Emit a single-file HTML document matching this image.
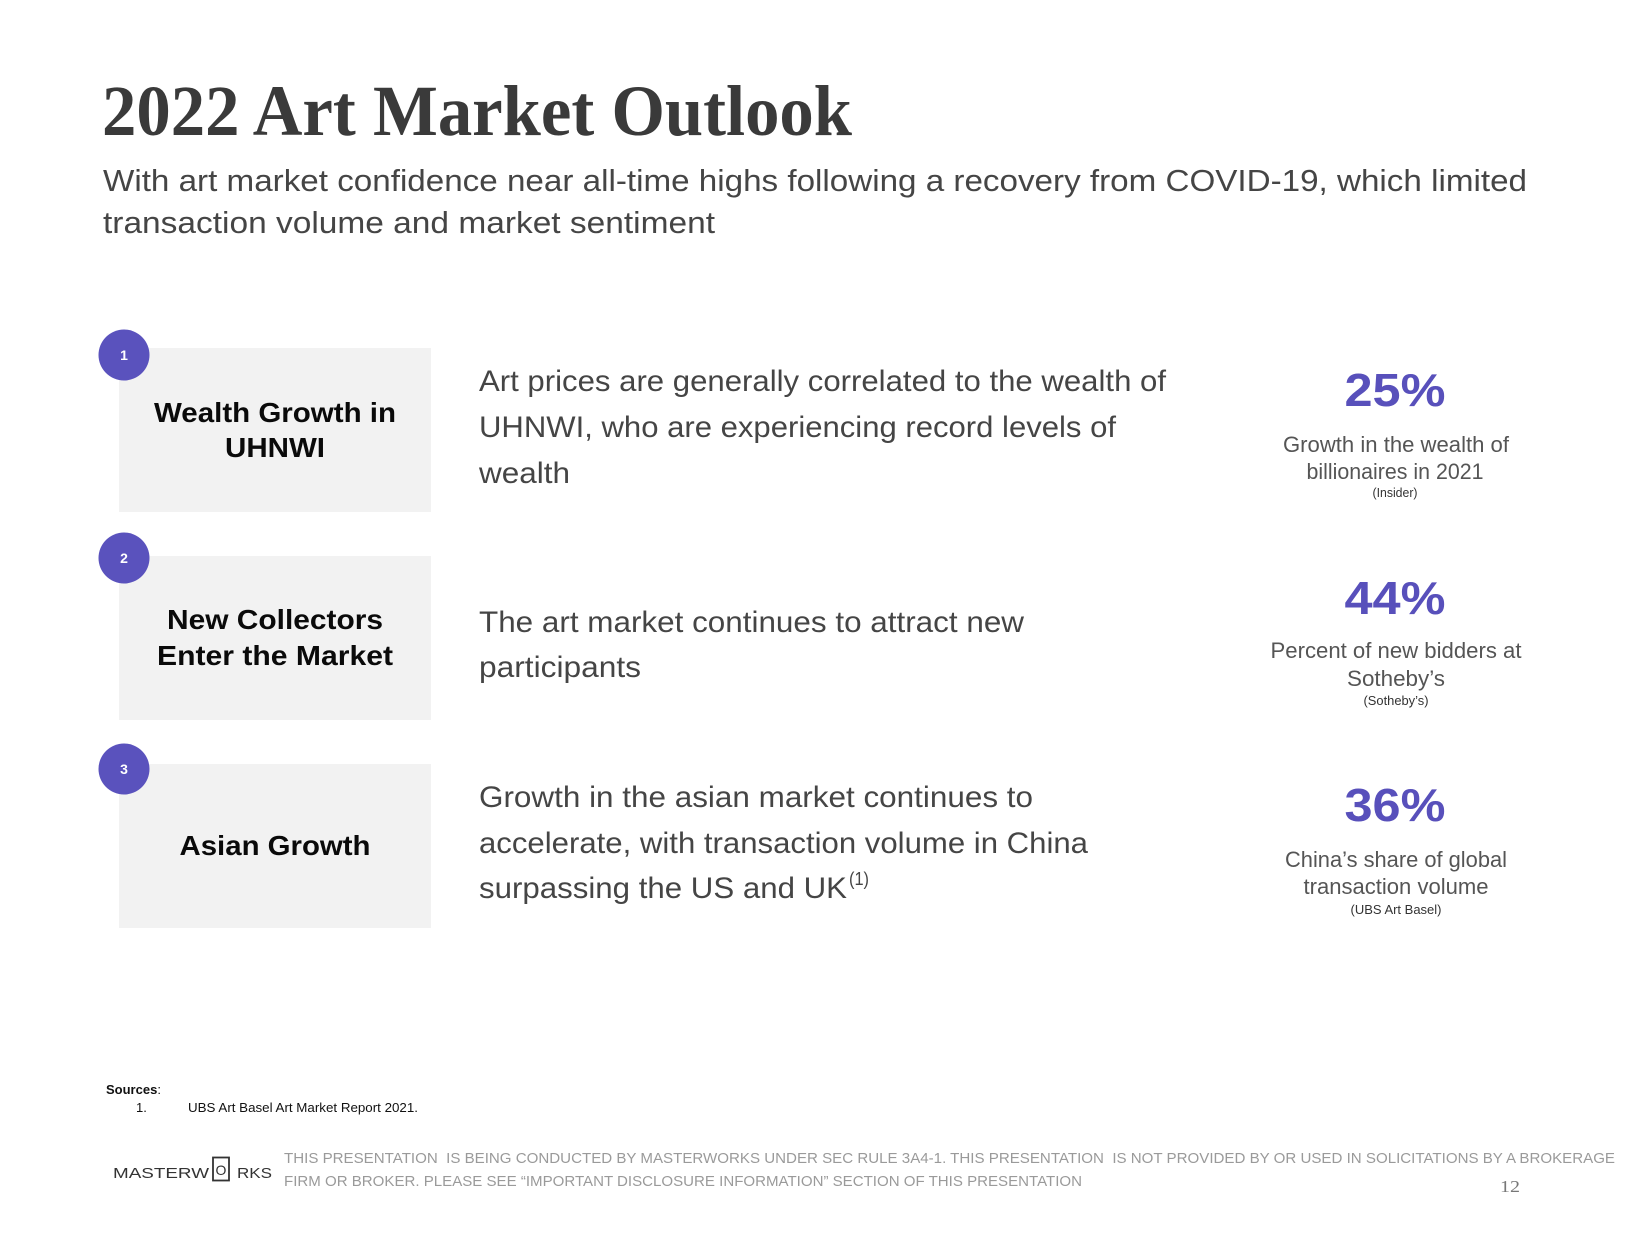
<!DOCTYPE html>
<html>
<head>
<meta charset="utf-8">
<style>
html,body{margin:0;padding:0;background:#fff;}
svg{display:block;}
text{white-space:pre;}
</style>
</head>
<body>
<svg width="1649" height="1235" viewBox="0 0 1649 1235" xmlns="http://www.w3.org/2000/svg">
<rect x="0" y="0" width="1649" height="1235" fill="#ffffff"/>

<!-- Title -->
<text x="102" y="135" font-family="'Liberation Serif', serif" font-weight="bold" font-size="72" fill="#3a3a3a" textLength="750" lengthAdjust="spacingAndGlyphs">2022 Art Market Outlook</text>

<!-- Subtitle -->
<g font-family="'Liberation Sans', sans-serif" font-size="31" fill="#454545">
<text x="103" y="191" textLength="1424" lengthAdjust="spacingAndGlyphs">With art market confidence near all-time highs following a recovery from COVID-19, which limited</text>
<text x="103" y="233" textLength="612" lengthAdjust="spacingAndGlyphs">transaction volume and market sentiment</text>
</g>

<!-- Boxes -->
<rect x="119" y="348" width="312" height="164" fill="#f2f2f2"/>
<rect x="119" y="556" width="312" height="164" fill="#f2f2f2"/>
<rect x="119" y="764" width="312" height="164" fill="#f2f2f2"/>

<!-- Circles -->
<g fill="#5a52bd">
<circle cx="124" cy="355" r="25.5"/>
<circle cx="124" cy="558" r="25.5"/>
<circle cx="124" cy="769" r="25.5"/>
</g>
<g font-family="'Liberation Sans', sans-serif" font-weight="bold" font-size="14" fill="#ffffff" text-anchor="middle">
<text x="124" y="360">1</text>
<text x="124" y="563">2</text>
<text x="124" y="774">3</text>
</g>

<!-- Box titles -->
<g font-family="'Liberation Sans', sans-serif" font-weight="bold" font-size="28" fill="#0a0a0a" text-anchor="middle">
<text x="275" y="422" textLength="242" lengthAdjust="spacingAndGlyphs">Wealth Growth in</text>
<text x="275" y="457" textLength="100" lengthAdjust="spacingAndGlyphs">UHNWI</text>
<text x="275" y="629" textLength="216" lengthAdjust="spacingAndGlyphs">New Collectors</text>
<text x="275" y="665" textLength="236" lengthAdjust="spacingAndGlyphs">Enter the Market</text>
<text x="275" y="855" textLength="191" lengthAdjust="spacingAndGlyphs">Asian Growth</text>
</g>

<!-- Middle descriptions -->
<g font-family="'Liberation Sans', sans-serif" font-size="30" fill="#454545">
<text x="479" y="391" textLength="687" lengthAdjust="spacingAndGlyphs">Art prices are generally correlated to the wealth of</text>
<text x="479" y="437" textLength="637" lengthAdjust="spacingAndGlyphs">UHNWI, who are experiencing record levels of</text>
<text x="479" y="483" textLength="91" lengthAdjust="spacingAndGlyphs">wealth</text>

<text x="479" y="632" textLength="545" lengthAdjust="spacingAndGlyphs">The art market continues to attract new</text>
<text x="479" y="677" textLength="162" lengthAdjust="spacingAndGlyphs">participants</text>

<text x="479" y="807" textLength="554" lengthAdjust="spacingAndGlyphs">Growth in the asian market continues to</text>
<text x="479" y="853" textLength="609" lengthAdjust="spacingAndGlyphs">accelerate, with transaction volume in China</text>
<text x="479" y="898" textLength="368" lengthAdjust="spacingAndGlyphs">surpassing the US and UK</text>
<text x="849" y="885" font-size="18" textLength="20" lengthAdjust="spacingAndGlyphs">(1)</text>
</g>

<!-- Right stats -->
<g font-family="'Liberation Sans', sans-serif" text-anchor="middle">
<text x="1395" y="406" font-size="46" font-weight="bold" fill="#5850bb" textLength="101" lengthAdjust="spacingAndGlyphs">25%</text>
<text x="1396" y="452" font-size="22" fill="#555555" textLength="226" lengthAdjust="spacingAndGlyphs">Growth in the wealth of</text>
<text x="1395" y="479" font-size="22" fill="#555555" textLength="177" lengthAdjust="spacingAndGlyphs">billionaires in 2021</text>
<text x="1395" y="497" font-size="13" fill="#333333" textLength="45" lengthAdjust="spacingAndGlyphs">(Insider)</text>

<text x="1395" y="614" font-size="46" font-weight="bold" fill="#5850bb" textLength="101" lengthAdjust="spacingAndGlyphs">44%</text>
<text x="1396" y="658" font-size="22" fill="#555555" textLength="251" lengthAdjust="spacingAndGlyphs">Percent of new bidders at</text>
<text x="1396" y="686" font-size="22" fill="#555555" textLength="98" lengthAdjust="spacingAndGlyphs">Sotheby’s</text>
<text x="1396" y="705" font-size="13" fill="#333333" textLength="65" lengthAdjust="spacingAndGlyphs">(Sotheby’s)</text>

<text x="1395" y="821" font-size="46" font-weight="bold" fill="#5850bb" textLength="101" lengthAdjust="spacingAndGlyphs">36%</text>
<text x="1396" y="867" font-size="22" fill="#555555" textLength="222" lengthAdjust="spacingAndGlyphs">China’s share of global</text>
<text x="1396" y="894" font-size="22" fill="#555555" textLength="185" lengthAdjust="spacingAndGlyphs">transaction volume</text>
<text x="1396" y="914" font-size="13" fill="#333333" textLength="91" lengthAdjust="spacingAndGlyphs">(UBS Art Basel)</text>
</g>

<!-- Sources -->
<g font-family="'Liberation Sans', sans-serif" font-size="13" fill="#111111">
<text x="106" y="1094"><tspan font-weight="bold">Sources</tspan>:</text>
<text x="136" y="1112">1.</text>
<text x="188" y="1112" textLength="230" lengthAdjust="spacingAndGlyphs">UBS Art Basel Art Market Report 2021.</text>
</g>

<!-- Logo -->
<g font-family="'Liberation Sans', sans-serif" font-size="15" fill="#333333">
<text x="113" y="1178" textLength="96" lengthAdjust="spacingAndGlyphs">MASTERW</text>
<rect x="213" y="1157.5" width="16" height="23" fill="none" stroke="#333333" stroke-width="1.8"/>
<text x="221" y="1175" text-anchor="middle" font-size="14">O</text>
<text x="237" y="1178" textLength="35" lengthAdjust="spacingAndGlyphs">RKS</text>
</g>

<!-- Disclaimer -->
<g font-family="'Liberation Sans', sans-serif" font-size="15" fill="#9a9a9a">
<text x="284" y="1163" textLength="1331" lengthAdjust="spacingAndGlyphs">THIS PRESENTATION  IS BEING CONDUCTED BY MASTERWORKS UNDER SEC RULE 3A4-1. THIS PRESENTATION  IS NOT PROVIDED BY OR USED IN SOLICITATIONS BY A BROKERAGE</text>
<text x="284" y="1186" textLength="798" lengthAdjust="spacingAndGlyphs">FIRM OR BROKER. PLEASE SEE “IMPORTANT DISCLOSURE INFORMATION” SECTION OF THIS PRESENTATION</text>
</g>

<!-- Page number -->
<text x="1500" y="1192" font-family="'Liberation Serif', serif" font-size="17" fill="#777777" textLength="20" lengthAdjust="spacingAndGlyphs">12</text>
</svg>
</body>
</html>
